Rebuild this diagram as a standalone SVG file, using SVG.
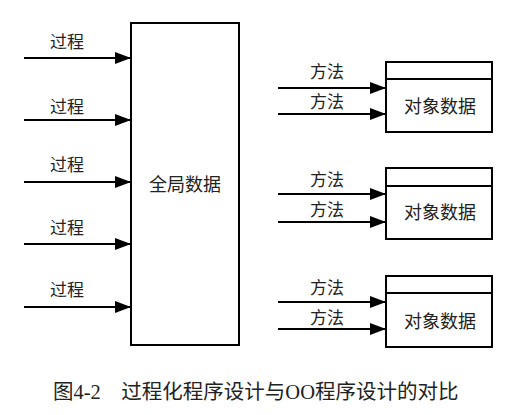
<svg xmlns="http://www.w3.org/2000/svg" width="518" height="415" viewBox="0 0 518 415">
<defs>
<marker id="ah" markerWidth="16" markerHeight="12" refX="16" refY="6" orient="auto" markerUnits="userSpaceOnUse">
<path d="M0,0 L16,6 L0,12 Z" fill="#000"/>
</marker>
<style>
.box{fill:#fff;stroke:#000;stroke-width:2}
.ln{stroke:#000;stroke-width:2;fill:none;marker-end:url(#ah)}
.lb{font-family:"Noto Sans CJK SC","Noto Sans",sans-serif;font-size:17px;fill:#222}
.nd{font-family:"Noto Sans CJK SC","Noto Sans",sans-serif;font-size:18px;fill:#222}
.cap{font-family:"Liberation Serif","Noto Sans CJK SC",serif;font-size:20.5px;fill:#222}
</style>
</defs>
<rect width="518" height="415" fill="#fff"/>
<g id="global-data">
<rect class="box" x="131" y="23" width="108" height="322"/>
<text class="nd" x="185" y="191" text-anchor="middle">全局数据</text>
</g>
<g id="obj1">
<rect class="box" x="386" y="62" width="106" height="70"/>
<line x1="386" y1="79" x2="492" y2="79" stroke="#000" stroke-width="2"/>
<text class="nd" x="440" y="113" text-anchor="middle">对象数据</text>
</g>
<g id="obj2">
<rect class="box" x="386" y="168" width="106" height="71"/>
<line x1="386" y1="186" x2="492" y2="186" stroke="#000" stroke-width="2"/>
<text class="nd" x="440" y="219" text-anchor="middle">对象数据</text>
</g>
<g id="obj3">
<rect class="box" x="386" y="276" width="106" height="71"/>
<line x1="386" y1="293" x2="492" y2="293" stroke="#000" stroke-width="2"/>
<text class="nd" x="440" y="328" text-anchor="middle">对象数据</text>
</g>
<g id="connectors">
<line class="ln" x1="24" y1="58" x2="131" y2="58"/>
<line class="ln" x1="24" y1="120" x2="131" y2="120"/>
<line class="ln" x1="24" y1="182" x2="131" y2="182"/>
<line class="ln" x1="24" y1="244" x2="131" y2="244"/>
<line class="ln" x1="24" y1="307" x2="131" y2="307"/>
<line class="ln" x1="278" y1="88" x2="386" y2="88"/>
<line class="ln" x1="278" y1="114" x2="386" y2="114"/>
<line class="ln" x1="278" y1="194" x2="386" y2="194"/>
<line class="ln" x1="278" y1="222" x2="386" y2="222"/>
<line class="ln" x1="278" y1="302" x2="386" y2="302"/>
<line class="ln" x1="278" y1="329" x2="386" y2="329"/>
</g>
<g id="labels">
<text class="lb" x="50" y="48">过程</text>
<text class="lb" x="50" y="113">过程</text>
<text class="lb" x="50" y="171">过程</text>
<text class="lb" x="50" y="234">过程</text>
<text class="lb" x="50" y="296">过程</text>
<text class="lb" x="310" y="78">方法</text>
<text class="lb" x="310" y="108">方法</text>
<text class="lb" x="310" y="186">方法</text>
<text class="lb" x="310" y="216">方法</text>
<text class="lb" x="310" y="294">方法</text>
<text class="lb" x="310" y="324">方法</text>
</g>
<g id="caption">
<text class="cap" x="53" y="399">图4-2　过程化程序设计与OO程序设计的对比</text>
</g>
</svg>
